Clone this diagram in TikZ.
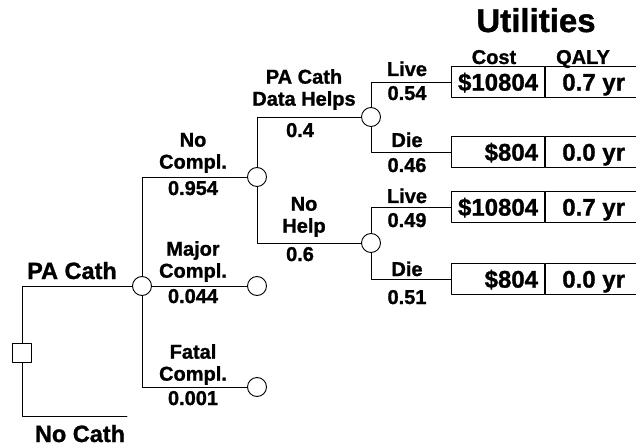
\documentclass[tikz,border=0pt]{standalone}
\usepackage{fontspec}
\setmainfont{Liberation Sans}[BoldFeatures={FakeBold=1.2}]
\usetikzlibrary{positioning,calc}

\begin{document}
\begin{tikzpicture}[x=1pt, y=-1pt, line cap=round, line join=round,
    chance/.style={draw, circle, fill=white, minimum size=19pt, inner sep=0pt, line width=0.9pt},
    choice/.style={draw, rectangle, fill=white, minimum size=19pt, inner sep=0pt, line width=0.9pt},
    branch/.style={line width=0.9pt},
    lbl/.style={font=\bfseries\fontsize{20}{22}\selectfont, align=center, inner sep=0pt, anchor=south},
    prob/.style={font=\bfseries\fontsize{20}{22}\selectfont, inner sep=0pt, anchor=base},
    big/.style={font=\bfseries\fontsize{23.5}{26}\selectfont, inner sep=0pt, anchor=base},
    costcell/.style={draw, line width=1.1pt, anchor=west, minimum height=31pt, text width=80pt,
        text height=17.2pt, text depth=0pt, inner xsep=6.5pt, inner ysep=0pt, align=right,
        font=\bfseries\fontsize{24}{26}\selectfont},
    qalycell/.style={draw, line width=1.1pt, anchor=west, minimum height=31pt, minimum width=96pt,
        text height=17.2pt, text depth=0pt, inner sep=0pt, font=\bfseries\fontsize{24}{26}\selectfont}]
    \useasboundingbox (0,0) rectangle (636,446);

    \node[choice] (dec) at (22,353) {};
    \node[chance] (c0) at (142,286) {};
    \node[chance] (c1) at (257,177) {};
    \node[chance] (c2) at (257,286) {};
    \node[chance] (c3) at (257,387) {};
    \node[chance] (c4) at (371,117) {};
    \node[chance] (c5) at (371,243) {};
    \coordinate (nocath) at (127,416);

    \node[costcell] (u1) at (451,82) {\$10804};
    \node[qalycell] (q1) at (u1.east) {0.7 yr};
    \node[costcell] (u2) at (451,152) {\$804};
    \node[qalycell] (q2) at (u2.east) {0.0 yr};
    \node[costcell] (u3) at (451,207) {\$10804};
    \node[qalycell] (q3) at (u3.east) {0.7 yr};
    \node[costcell] (u4) at (451,279) {\$804};
    \node[qalycell] (q4) at (u4.east) {0.0 yr};

    \draw[branch] (dec.north) |- (c0.west);
    \draw[branch] (dec.south) |- (nocath);
    \draw[branch] (c0.north) |- (c1.west);
    \draw[branch] (c0.east) -- (c2.west);
    \draw[branch] (c0.south) |- (c3.west);
    \draw[branch] (c1.north) |- (c4.west);
    \draw[branch] (c1.south) |- (c5.west);
    \draw[branch] (c4.north) |- (u1.west);
    \draw[branch] (c4.south) |- (u2.west);
    \draw[branch] (c5.north) |- (u3.west);
    \draw[branch] (c5.south) |- (u4.west);

    \node[big] (lPA) at (72,279) {PA Cath};
    \node[big] (lNo) at (80,442) {No Cath};

    \node[lbl] (lNoCompl) at (193,173) {No\\Compl.};
    \node[prob] (pNoCompl) at (193,195) {0.954};
    \node[lbl] (lMajor) at (193,282) {Major\\Compl.};
    \node[prob] (pMajor) at (193,303) {0.044};
    \node[lbl] (lFatal) at (193,385) {Fatal\\Compl.};
    \node[prob] (pFatal) at (193,405) {0.001};

    \node[lbl] (lHelps) at (304,110) {PA Cath\\Data Helps};
    \node[prob] (pHelps) at (300,137) {0.4};
    \node[lbl] (lNoHelp) at (304,237) {No\\Help};
    \node[prob] (pNoHelp) at (300,261) {0.6};

    \node[prob] (lLive1) at (407,76) {Live};
    \node[prob] (pLive1) at (407,100) {0.54};
    \node[prob] (lDie1) at (407,147) {Die};
    \node[prob] (pDie1) at (407,172) {0.46};
    \node[prob] (lLive2) at (407,203) {Live};
    \node[prob] (pLive2) at (407,227) {0.49};
    \node[prob] (lDie2) at (407,276) {Die};
    \node[prob] (pDie2) at (407,304) {0.51};

    \node[font=\bfseries\fontsize{33}{36}\selectfont, inner sep=0pt, anchor=base] (title) at (536,32) {Utilities};
    \node[prob] (hCost) at (494,64) {Cost};
    \node[prob] (hQaly) at (583,64) {QALY};
\end{tikzpicture}
\end{document}
